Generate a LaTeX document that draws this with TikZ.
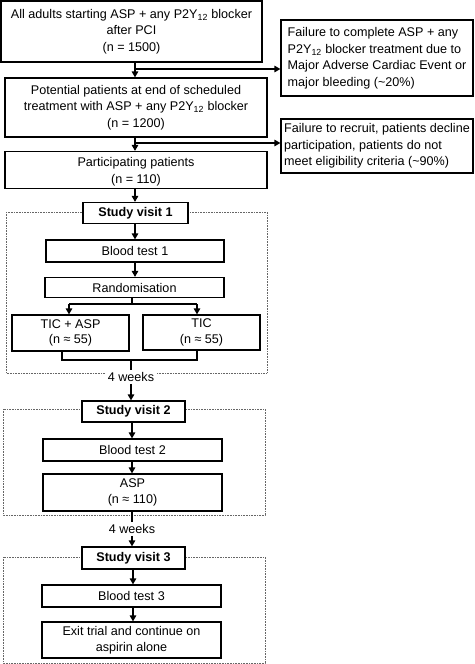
\documentclass[tikz,border=0pt]{standalone}
\usepackage{fontspec}
\setmainfont{Liberation Sans}
\usetikzlibrary{arrows.meta}
\begin{document}
\begin{tikzpicture}[x=1pt,y=-1pt,
  box/.style={draw,line width=1.2pt,fill=white,inner sep=0pt,align=center,
    font=\fontsize{12.6}{16.5}\selectfont},
  sidebox/.style={box,align=left},
  visit/.style={box,font=\fontsize{12.6}{16.5}\selectfont\bfseries},
  frame/.style={draw=black!60,line width=0.8pt,dash pattern=on 0.8pt off 0.8pt},
  lbl/.style={fill=white,inner sep=2pt,font=\fontsize{12.6}{16.5}\selectfont},
  ln/.style={line width=1.2pt},
  arr/.style={line width=1.2pt,-{Triangle[length=6pt,width=6.5pt]}}]
\useasboundingbox (0,0) rectangle (474,664);
% frames
\draw[frame] (6,212) rectangle (267,373);
\draw[frame] (3,409) rectangle (265,515);
\draw[frame] (3,557) rectangle (265,663);
% nodes
\node[box,minimum width=261pt,minimum height=61pt] (b1) at (131.5,31.5)
  {All adults starting ASP + any P2Y\textsubscript{12} blocker\\after PCI\\(n = 1500)};
\node[sidebox,minimum width=192pt,minimum height=76pt] (f1) at (377,58)
  {Failure to complete ASP + any\\P2Y\textsubscript{12} blocker treatment due to\\Major Adverse Cardiac Event or\\major bleeding (\textasciitilde20\%)};
\node[box,minimum width=262pt,minimum height=59pt] (b2) at (136,107.5)
  {Potential patients at end of scheduled\\treatment with ASP + any P2Y\textsubscript{12} blocker\\(n = 1200)};
\node[sidebox,minimum width=192pt,minimum height=54pt] (f2) at (377,146)
  {Failure to recruit, patients decline\\participation, patients do not\\meet eligibility criteria (\textasciitilde90\%)};
\node[box,minimum width=262pt,minimum height=37pt] (b3) at (136,170) {};
\node[align=center,inner sep=0pt,font=\fontsize{12.6}{17}\selectfont] (b3t) at ([yshift=-1.5pt]b3.center)
  {Participating patients\\(n = 110)};
\node[visit,minimum width=105pt,minimum height=21pt] (sv1) at (135.5,213) {Study visit 1};
\node[box,minimum width=178pt,minimum height=22pt] (bt1) at (135,251) {Blood test 1};
\node[box,minimum width=179pt,minimum height=20pt] (rand) at (134.5,287.5) {Randomisation};
\node[box,minimum width=117pt,minimum height=36pt,font=\fontsize{12.6}{15.5}\selectfont] (ta) at (70.5,333) {TIC + ASP\\(n ≈ 55)};
\node[box,minimum width=117pt,minimum height=35pt,font=\fontsize{12.6}{15.5}\selectfont] (tic) at (201.5,332.5) {TIC\\(n ≈ 55)};
\node[lbl] (w4a) at (131,377) {4 weeks};
\node[visit,minimum width=103pt,minimum height=21pt] (sv2) at (133.5,411.5) {Study visit 2};
\node[box,minimum width=179pt,minimum height=22pt] (bt2) at (132.5,450) {Blood test 2};
\node[box,minimum width=179pt,minimum height=37pt,font=\fontsize{12.6}{15.5}\selectfont] (asp) at (132.5,492.5) {ASP\\(n ≈ 110)};
\node[lbl] (w4b) at (132,529) {4 weeks};
\node[visit,minimum width=103pt,minimum height=22pt] (sv3) at (133.5,558) {Study visit 3};
\node[box,minimum width=179pt,minimum height=22pt] (bt3) at (131.5,596) {Blood test 3};
\node[box,minimum width=179pt,minimum height=36pt] (exit) at (131.5,640)
  {Exit trial and continue on\\aspirin alone};
% connectors
\coordinate (j1) at (135,69);
\coordinate (j2) at (135,143);
\draw[arr] (b1.south -| j1) -- (b2.north -| j1);
\draw[arr] (j1) -- (j1 -| f1.west);
\draw[arr] (b2.south -| j2) -- (b3.north -| j2);
\draw[arr] (j2) -- (j2 -| f2.west);
\draw[arr] (b3.south -| j2) -- (sv1.north -| j2);
\draw[arr] (sv1.south -| j2) -- (bt1.north -| j2);
\draw[arr] (bt1.south -| j2) -- (rand.north -| j2);
\coordinate (s1) at (132,304);
\coordinate (sa) at (69,304);
\coordinate (sb) at (197,304);
\draw[ln] (rand.south -| s1) -- (s1);
\draw[ln] (sa) -- (sb);
\draw[arr] (sa) -- (sa |- ta.north);
\draw[arr] (sb) -- (sb |- tic.north);
\coordinate (ma) at (62,360);
\coordinate (mb) at (197,360);
\coordinate (mc) at (131,360);
\draw[ln] (ta.south -| ma) -- (ma) -- (mb) -- (tic.south -| mb);
\draw[ln] (mc) -- (w4a.north);
\draw[arr] (w4a.south) -- (sv2.north -| w4a);
\coordinate (k) at (132,0);
\draw[arr] (sv2.south -| k) -- (bt2.north -| k);
\draw[arr] (bt2.south -| k) -- (asp.north -| k);
\draw[ln] (asp.south -| k) -- (w4b.north);
\draw[arr] (w4b.south) -- (sv3.north -| w4b);
\coordinate (k3) at (133,0);
\draw[arr] (sv3.south -| k3) -- (bt3.north -| k3);
\draw[arr] (bt3.south -| k3) -- (exit.north -| k3);
\end{tikzpicture}
\end{document}
